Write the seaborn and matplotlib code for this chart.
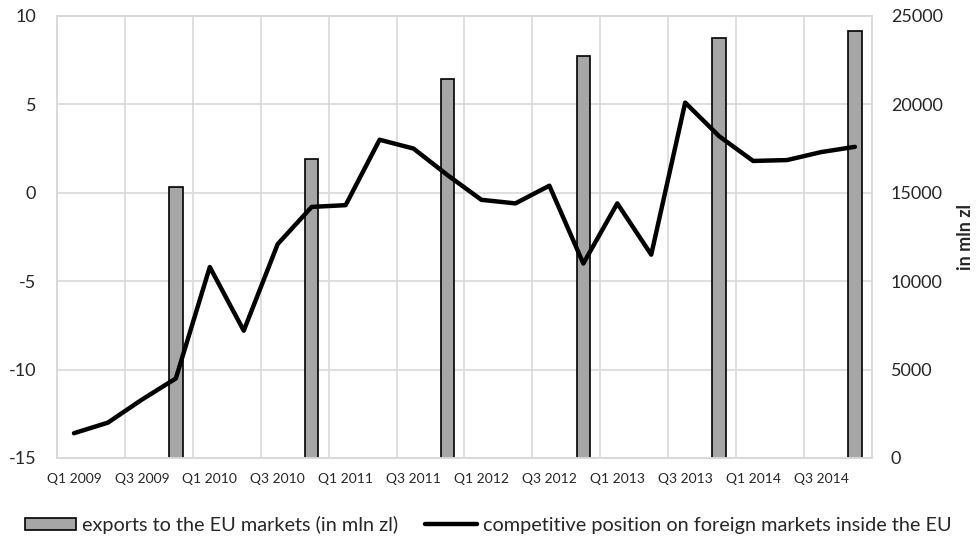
import matplotlib
matplotlib.use("Agg")
import matplotlib.pyplot as plt
from matplotlib.patches import Patch
from matplotlib.lines import Line2D
import numpy as np
import pandas as pd
import seaborn as sns

# Quarterly labels, Q1 2009 - Q4 2014
quarters = [f"Q{q} {y}" for y in range(2009, 2015) for q in range(1, 5)]

# Competitive position on foreign markets inside the EU (left axis)
competitive = [-13.6, -13.0, -11.7, -10.5, -4.2, -7.8, -2.9, -0.8,
               -0.7, 3.0, 2.5, 1.0, -0.4, -0.6, 0.4, -4.0,
               -0.6, -3.5, 5.1, 3.2, 1.8, 1.85, 2.3, 2.6]

# Annual exports to the EU markets, reported in the fourth quarter (right axis)
export_quarters = ["Q4 2009", "Q4 2010", "Q4 2011", "Q4 2012", "Q4 2013", "Q4 2014"]
exports = [15350, 16900, 21450, 22750, 23750, 24150]

left_ticks = [-15, -10, -5, 0, 5, 10]
right_ticks = [0, 5000, 10000, 15000, 20000, 25000]

sns.set_style("white")
plt.rcParams["font.family"] = ["Lato", "DejaVu Sans"]

line_df = pd.DataFrame({"pos": np.arange(len(quarters)), "value": competitive})
bar_df = pd.DataFrame({"pos": [quarters.index(q) for q in export_quarters],
                       "value": exports})

fig = plt.figure(figsize=(9.76, 5.4), dpi=100)
ax = fig.add_axes([0.0584, 0.1519, 0.835, 0.8185])
ax2 = ax.twinx()

grid_c = "#d9d9d9"
bar_c = "#a6a6a6"

# Bars on the lower axes (right-hand scale)
sns.barplot(data=bar_df, x="pos", y="value", native_scale=True, width=0.1,
            color=bar_c, edgecolor="black", linewidth=1.2, saturation=1,
            ax=ax, zorder=2)
for p in ax.patches:
    p.set_facecolor(bar_c)
    p.set_edgecolor("black")

# Line on the upper axes (left-hand scale)
sns.lineplot(data=line_df, x="pos", y="value", color="black", linewidth=3.2,
             ax=ax2, zorder=3)

ax.set_xlim(-0.5, len(quarters) - 0.5)
ax.set_ylim(0, 25000)
ax2.set_ylim(-15, 10)

# Bar axes shows ticks on the right, line axes on the left
ax.yaxis.tick_right()
ax.yaxis.set_label_position("right")
ax2.yaxis.tick_left()
ax2.yaxis.set_label_position("left")

ax.set_yticks(right_ticks)
ax.set_yticklabels([str(t) for t in right_ticks])
ax2.set_yticks(left_ticks)
ax2.set_yticklabels([str(t) for t in left_ticks])

ax.set_xticks(np.arange(0, len(quarters), 2))
ax.set_xticklabels([quarters[i] for i in range(0, len(quarters), 2)], fontsize=10)
ax.set_xticks(np.arange(-0.5, len(quarters), 2), minor=True)

# Gridlines
ax.set_axisbelow(True)
ax.grid(False)
ax2.grid(False)
ax.yaxis.grid(True, color=grid_c, linewidth=1.2)
ax.xaxis.grid(True, which="minor", color=grid_c, linewidth=1.2)

ax.tick_params(axis="y", length=0, pad=13.5, labelsize=13)
ax2.tick_params(axis="y", length=0, pad=15, labelsize=13)
ax.tick_params(axis="x", which="both", length=0, pad=11)
ax2.tick_params(axis="x", which="both", length=0)

for a in (ax, ax2):
    for s in a.spines.values():
        s.set_color(grid_c)
        s.set_linewidth(1.2)
ax2.patch.set_visible(False)

ax.set_xlabel("")
ax.set_ylabel("in mln zl", fontsize=13, fontweight="bold", labelpad=10)
ax2.set_xlabel("")
ax2.set_ylabel("")

handles = [
    Patch(facecolor=bar_c, edgecolor="black", linewidth=1.2),
    Line2D([0], [0], color="black", linewidth=3.2),
]
labels = ["exports to the EU markets (in mln zl)",
          "competitive position on foreign markets inside the EU"]
fig.legend(handles, labels, loc="center", bbox_to_anchor=(0.5, 0.028),
           ncol=2, frameon=False, fontsize=14.3, handlelength=2.6,
           handleheight=0.6, handletextpad=0.3, columnspacing=1.35,
           borderaxespad=0)

fig.savefig("out.png", dpi=100)
